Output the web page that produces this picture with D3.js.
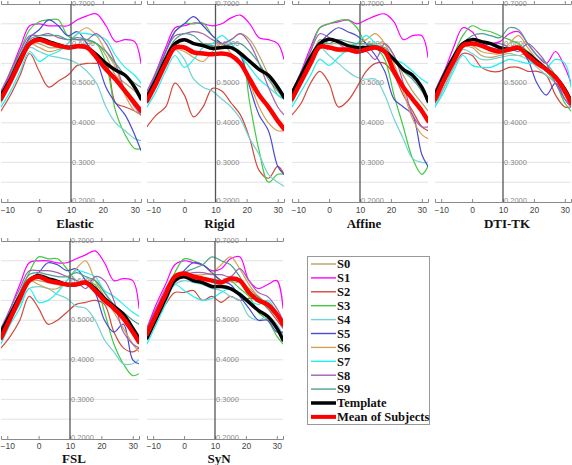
<!DOCTYPE html>
<html><head><meta charset="utf-8">
<script src="https://cdn.jsdelivr.net/npm/d3@7"></script>
<style>body{margin:0;background:#fff}svg{display:block}</style>
</head><body>
<svg id="c" width="572" height="465"></svg>
<script>
const xs = [-12,-9,-6,-3,0,3,6,9,12,15,18,21,24,27,30,32];
const panelNames = ["Elastic","Rigid","Affine","DTI-TK","FSL","SyN"];
const seriesNames = ["S0","S1","S2","S3","S4","S5","S6","S7","S8","S9","Template","Mean of Subjects"];
const seriesColors = ["#b3a369","#ff00ff","#d2483c","#44c944","#72d2d2","#4a4ad0","#d4a055","#22f0f0","#a060b0","#4f9f8f","#000000","#ff0000"];
const xTicks = [-10,0,10,20,30];
const yLabels = ["0.7000","0.6000","0.5000","0.4000","0.3000","0.2000"];

const elastic = [
 [0.46,0.50,0.55,0.60,0.60,0.59,0.59,0.59,0.595,0.60,0.60,0.57,0.52,0.50,0.48,0.46],
 [0.47,0.53,0.59,0.645,0.65,0.645,0.645,0.645,0.66,0.67,0.675,0.645,0.605,0.61,0.605,0.55],
 [0.43,0.47,0.52,0.575,0.53,0.49,0.505,0.52,0.545,0.55,0.55,0.55,0.45,0.44,0.43,0.42],
 [0.46,0.52,0.58,0.635,0.655,0.66,0.66,0.62,0.61,0.61,0.60,0.55,0.43,0.37,0.335,0.335],
 [0.45,0.50,0.55,0.59,0.58,0.57,0.565,0.56,0.55,0.53,0.50,0.44,0.40,0.38,0.36,0.355],
 [0.47,0.52,0.57,0.615,0.635,0.66,0.645,0.62,0.63,0.60,0.56,0.49,0.45,0.42,0.37,0.33],
 [0.46,0.50,0.55,0.60,0.59,0.58,0.585,0.60,0.625,0.64,0.62,0.58,0.54,0.47,0.43,0.42],
 [0.44,0.48,0.53,0.58,0.555,0.57,0.58,0.60,0.625,0.625,0.62,0.61,0.57,0.54,0.52,0.50],
 [0.48,0.53,0.58,0.62,0.62,0.625,0.615,0.61,0.61,0.61,0.625,0.60,0.55,0.48,0.44,0.42],
 [0.47,0.52,0.57,0.61,0.62,0.62,0.62,0.61,0.615,0.61,0.60,0.58,0.55,0.52,0.50,0.49],
 [0.47,0.51,0.56,0.60,0.612,0.605,0.597,0.59,0.593,0.59,0.572,0.55,0.533,0.52,0.49,0.46],
 [0.46,0.505,0.555,0.60,0.61,0.602,0.595,0.59,0.593,0.59,0.565,0.535,0.51,0.48,0.45,0.43]
];
const rigid = [
 [0.46,0.51,0.56,0.60,0.61,0.60,0.60,0.60,0.60,0.61,0.625,0.61,0.57,0.52,0.47,0.46],
 [0.47,0.53,0.59,0.64,0.645,0.652,0.65,0.645,0.65,0.665,0.672,0.65,0.615,0.61,0.60,0.56],
 [0.39,0.42,0.44,0.50,0.47,0.415,0.44,0.487,0.48,0.45,0.42,0.36,0.28,0.26,0.29,0.27],
 [0.46,0.52,0.58,0.63,0.65,0.65,0.652,0.62,0.60,0.59,0.58,0.45,0.33,0.25,0.27,0.27],
 [0.45,0.50,0.55,0.585,0.56,0.51,0.49,0.48,0.46,0.44,0.41,0.36,0.32,0.27,0.25,0.24],
 [0.47,0.52,0.58,0.63,0.65,0.668,0.645,0.62,0.60,0.59,0.57,0.49,0.42,0.38,0.29,0.27],
 [0.46,0.50,0.55,0.585,0.58,0.565,0.555,0.58,0.60,0.575,0.545,0.50,0.44,0.40,0.38,0.38],
 [0.44,0.48,0.53,0.57,0.54,0.56,0.59,0.60,0.62,0.60,0.57,0.54,0.51,0.49,0.47,0.46],
 [0.48,0.53,0.58,0.62,0.625,0.63,0.625,0.61,0.60,0.61,0.625,0.60,0.55,0.49,0.44,0.42],
 [0.47,0.52,0.57,0.61,0.625,0.62,0.60,0.595,0.59,0.60,0.60,0.58,0.55,0.51,0.48,0.46],
 [0.466,0.51,0.56,0.60,0.61,0.60,0.595,0.588,0.59,0.59,0.575,0.555,0.535,0.52,0.49,0.465],
 [0.455,0.50,0.55,0.59,0.59,0.578,0.575,0.573,0.575,0.57,0.55,0.51,0.47,0.44,0.405,0.385]
];
const affine = [
 [0.46,0.50,0.55,0.61,0.60,0.60,0.595,0.60,0.60,0.60,0.60,0.57,0.52,0.48,0.45,0.43],
 [0.47,0.53,0.59,0.64,0.65,0.655,0.66,0.65,0.66,0.67,0.675,0.655,0.61,0.62,0.62,0.565],
 [0.42,0.45,0.50,0.53,0.50,0.44,0.455,0.49,0.53,0.55,0.55,0.52,0.47,0.43,0.39,0.38],
 [0.46,0.52,0.58,0.64,0.65,0.658,0.66,0.64,0.60,0.59,0.56,0.47,0.39,0.31,0.27,0.29],
 [0.45,0.50,0.55,0.59,0.57,0.55,0.53,0.515,0.51,0.51,0.47,0.41,0.36,0.31,0.30,0.30],
 [0.47,0.51,0.56,0.60,0.625,0.64,0.63,0.62,0.60,0.57,0.53,0.46,0.44,0.42,0.32,0.29],
 [0.46,0.50,0.55,0.60,0.59,0.58,0.58,0.60,0.61,0.625,0.60,0.55,0.48,0.41,0.37,0.36],
 [0.44,0.48,0.52,0.56,0.545,0.565,0.585,0.60,0.62,0.60,0.58,0.56,0.55,0.53,0.51,0.50],
 [0.48,0.53,0.58,0.625,0.615,0.60,0.585,0.575,0.58,0.56,0.60,0.57,0.50,0.42,0.39,0.39],
 [0.47,0.52,0.56,0.60,0.60,0.61,0.605,0.60,0.60,0.595,0.59,0.56,0.53,0.51,0.48,0.45],
 [0.475,0.52,0.565,0.60,0.611,0.605,0.595,0.59,0.59,0.59,0.58,0.56,0.535,0.52,0.49,0.455],
 [0.46,0.505,0.55,0.592,0.59,0.585,0.585,0.58,0.585,0.59,0.58,0.53,0.49,0.46,0.43,0.405]
];
const dtitk = [
 [0.45,0.50,0.55,0.59,0.59,0.57,0.565,0.57,0.575,0.57,0.575,0.56,0.54,0.51,0.475,0.45],
 [0.48,0.53,0.59,0.64,0.63,0.60,0.60,0.605,0.625,0.63,0.60,0.57,0.55,0.58,0.54,0.50],
 [0.45,0.49,0.54,0.575,0.57,0.54,0.53,0.53,0.54,0.54,0.53,0.53,0.52,0.47,0.44,0.44],
 [0.46,0.51,0.57,0.62,0.645,0.635,0.63,0.62,0.61,0.60,0.58,0.56,0.53,0.50,0.45,0.43],
 [0.44,0.49,0.54,0.585,0.575,0.56,0.56,0.565,0.57,0.57,0.56,0.54,0.52,0.50,0.47,0.44],
 [0.47,0.52,0.57,0.60,0.61,0.60,0.59,0.585,0.59,0.59,0.56,0.50,0.47,0.50,0.46,0.44],
 [0.46,0.51,0.56,0.60,0.595,0.58,0.575,0.575,0.60,0.62,0.59,0.56,0.54,0.51,0.47,0.44],
 [0.44,0.48,0.53,0.57,0.545,0.54,0.54,0.55,0.56,0.555,0.55,0.55,0.54,0.56,0.55,0.49],
 [0.48,0.53,0.57,0.60,0.60,0.60,0.60,0.60,0.59,0.58,0.60,0.58,0.55,0.50,0.46,0.44],
 [0.47,0.52,0.56,0.60,0.62,0.625,0.62,0.615,0.64,0.635,0.60,0.57,0.55,0.52,0.48,0.45],
 [0.47,0.52,0.565,0.60,0.61,0.605,0.60,0.59,0.585,0.588,0.575,0.555,0.535,0.515,0.485,0.455],
 [0.46,0.51,0.555,0.595,0.60,0.595,0.585,0.58,0.585,0.59,0.57,0.55,0.535,0.515,0.48,0.45]
];
const fsl = [
 [0.46,0.50,0.55,0.60,0.60,0.595,0.59,0.59,0.595,0.60,0.60,0.57,0.53,0.50,0.47,0.45],
 [0.47,0.53,0.59,0.645,0.65,0.65,0.645,0.645,0.655,0.665,0.675,0.645,0.60,0.605,0.60,0.53],
 [0.43,0.46,0.50,0.56,0.53,0.49,0.50,0.52,0.54,0.545,0.55,0.54,0.47,0.43,0.42,0.43],
 [0.46,0.52,0.57,0.62,0.66,0.655,0.655,0.63,0.60,0.595,0.59,0.52,0.44,0.39,0.36,0.365],
 [0.45,0.50,0.54,0.58,0.585,0.58,0.565,0.555,0.535,0.53,0.50,0.45,0.42,0.39,0.39,0.40],
 [0.47,0.52,0.56,0.60,0.62,0.645,0.64,0.625,0.63,0.60,0.57,0.50,0.47,0.49,0.40,0.39],
 [0.46,0.50,0.55,0.60,0.59,0.58,0.58,0.60,0.63,0.65,0.60,0.56,0.52,0.48,0.44,0.42],
 [0.44,0.49,0.53,0.58,0.545,0.55,0.57,0.60,0.625,0.62,0.61,0.575,0.56,0.54,0.52,0.51],
 [0.48,0.53,0.58,0.625,0.625,0.625,0.62,0.61,0.60,0.58,0.61,0.60,0.55,0.47,0.44,0.43],
 [0.47,0.52,0.57,0.615,0.62,0.615,0.61,0.61,0.62,0.61,0.60,0.57,0.54,0.52,0.50,0.49],
 [0.47,0.515,0.56,0.60,0.612,0.605,0.598,0.59,0.59,0.595,0.58,0.555,0.535,0.515,0.48,0.455],
 [0.455,0.505,0.555,0.60,0.61,0.60,0.595,0.59,0.59,0.595,0.575,0.55,0.53,0.505,0.47,0.445]
];
const syn = [
 [0.46,0.51,0.56,0.60,0.61,0.605,0.60,0.60,0.60,0.60,0.60,0.58,0.56,0.54,0.51,0.48],
 [0.48,0.54,0.59,0.64,0.65,0.645,0.64,0.625,0.63,0.655,0.66,0.60,0.58,0.59,0.60,0.53],
 [0.46,0.50,0.54,0.57,0.57,0.575,0.55,0.56,0.545,0.56,0.55,0.555,0.55,0.53,0.50,0.48],
 [0.46,0.52,0.57,0.62,0.655,0.65,0.64,0.62,0.60,0.60,0.58,0.56,0.52,0.50,0.46,0.44],
 [0.45,0.50,0.55,0.59,0.60,0.595,0.59,0.58,0.575,0.56,0.55,0.51,0.50,0.51,0.49,0.46],
 [0.48,0.53,0.57,0.60,0.625,0.645,0.64,0.62,0.60,0.59,0.56,0.53,0.50,0.50,0.47,0.47],
 [0.46,0.51,0.56,0.61,0.62,0.615,0.615,0.62,0.64,0.66,0.63,0.59,0.56,0.54,0.52,0.49],
 [0.44,0.49,0.54,0.59,0.575,0.56,0.55,0.555,0.57,0.58,0.57,0.55,0.54,0.55,0.52,0.50],
 [0.48,0.53,0.58,0.61,0.615,0.62,0.62,0.615,0.615,0.61,0.63,0.60,0.57,0.56,0.53,0.50],
 [0.47,0.52,0.56,0.60,0.62,0.63,0.64,0.66,0.65,0.64,0.61,0.57,0.56,0.53,0.51,0.49],
 [0.455,0.505,0.555,0.60,0.61,0.60,0.595,0.585,0.585,0.58,0.565,0.545,0.525,0.51,0.48,0.45],
 [0.465,0.515,0.565,0.61,0.618,0.61,0.605,0.60,0.595,0.605,0.60,0.57,0.55,0.54,0.515,0.49]
];
const panelData = [elastic, rigid, affine, dtitk, fsl, syn];

// layout (pixel geometry)
const boxes = [
  {x0:1,x1:141,y0:4,y1:202,ty:228,tp:5},{x0:147,x1:284,y0:4,y1:202,ty:228,tp:5},
  {x0:292,x1:428,y0:4,y1:202,ty:228,tp:5},{x0:435,x1:571,y0:4,y1:202,ty:228,tp:5},
  {x0:1,x1:139,y0:241,y1:439,ty:463,tp:4},{x0:147,x1:283,y0:241,y1:439,ty:463,tp:4}
];

const svg = d3.select("#c");
const defs = svg.append("defs");

panelData.forEach((series, p) => {
  const b = boxes[p];
  const x = d3.scaleLinear().domain([-12,32]).range([b.x0,b.x1]);
  const y = d3.scaleLinear().domain([0.2,0.7]).range([b.y1,b.y0]);
  const g = svg.append("g");

  // gridlines every 0.05
  const grid = d3.range(0.25,0.7,0.05);
  g.selectAll("line.grid").data(grid).join("line")
    .attr("x1",b.x0).attr("x2",b.x1)
    .attr("y1",d=>y(d)).attr("y2",d=>y(d))
    .attr("stroke","#e2e2e2").attr("stroke-width",1);

  // top and bottom axes
  const bottomAxis = d3.axisBottom(x).tickValues(xTicks).tickSize(-3).tickPadding(b.tp).tickFormat(d3.format("d"));
  const gb = g.append("g").attr("transform",`translate(0,${b.y1})`).call(bottomAxis);
  gb.select(".domain").attr("stroke","#8a8a8a");
  gb.selectAll(".tick line").attr("stroke","#8a8a8a");
  gb.selectAll(".tick text").attr("font-family","Liberation Sans, Arial, sans-serif")
    .attr("font-size",8.5).attr("fill","#444");
  const topAxis = d3.axisTop(x).tickValues(xTicks).tickSize(3).tickFormat("");
  const gt = g.append("g").attr("transform",`translate(0,${b.y0})`).call(topAxis);
  gt.select(".domain").attr("stroke","#8a8a8a");
  gt.selectAll(".tick line").attr("stroke","#8a8a8a");

  // y labels next to vertical axis at x = 10
  g.selectAll("text.yl").data(yLabels).join("text")
    .attr("x", x(10)+1).attr("y", d=>y(+d) - (d==="0.2000" ? 1 : 0)).attr("dy","0.3em")
    .attr("font-family","Liberation Sans, Arial, sans-serif").attr("font-size",7.5)
    .attr("fill","#8a8a8a").text(d=>d);

  // clip
  const cid = "clip"+p;
  defs.append("clipPath").attr("id",cid).append("rect")
    .attr("x",b.x0).attr("y",b.y0).attr("width",b.x1-b.x0).attr("height",b.y1-b.y0);

  const line = d3.line().x((d,i)=>x(xs[i])).y(d=>y(d)).curve(d3.curveCatmullRom.alpha(0.5));
  const lg = g.append("g").attr("clip-path",`url(#${cid})`);
  series.forEach((vals, s) => {
    lg.append("path").attr("d", line(vals)).attr("fill","none")
      .attr("stroke", seriesColors[s])
      .attr("stroke-width", s===10 ? 3.5 : s===11 ? 4.5 : 1.2)
      .attr("stroke-linejoin","round").attr("stroke-linecap","round");
  });

  // vertical axis line at x=10
  g.append("line").attr("x1",x(10)).attr("x2",x(10)).attr("y1",b.y0).attr("y2",b.y1)
    .attr("stroke","#555").attr("stroke-width",1.3);

  // title
  g.append("text").attr("x", x(10)+4).attr("y", b.ty)
    .attr("text-anchor","middle").attr("font-family","Liberation Serif, Times New Roman, serif")
    .attr("font-weight","bold").attr("font-size",13).attr("fill","#111").text(panelNames[p]);
});

// legend
const lgd = svg.append("g");
lgd.append("rect").attr("x",307.5).attr("y",256.5).attr("width",122).attr("height",168)
  .attr("fill","#fff").attr("stroke","#999").attr("stroke-width",1);
seriesNames.forEach((n,i) => {
  const yy = 264 + i*13.9;
  lgd.append("line").attr("x1",311).attr("x2",336).attr("y1",yy).attr("y2",yy)
    .attr("stroke",seriesColors[i]).attr("stroke-width", i===10 ? 3.5 : i===11 ? 4 : 1.4);
  lgd.append("text").attr("x",337).attr("y",yy).attr("dy","0.35em")
    .attr("font-family","Liberation Serif, Times New Roman, serif").attr("font-weight","bold")
    .attr("font-size",12.5).attr("fill","#111").text(n);
});
</script>
</body></html>
